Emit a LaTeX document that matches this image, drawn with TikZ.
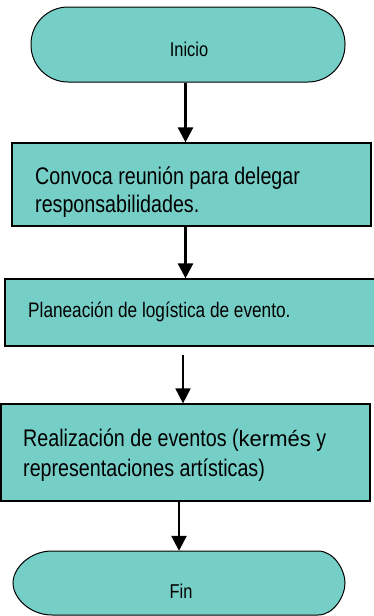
\documentclass[tikz,border=0pt]{standalone}
\usepackage{fontspec}
\setmainfont{Liberation Sans}
\newfontfamily\narrowfont[FakeStretch=0.82]{Liberation Sans}
\usetikzlibrary{arrows.meta}
\definecolor{tealfill}{RGB}{118,207,199}
\begin{document}
\begin{tikzpicture}[x=1pt,y=-1pt,
  termbox/.style={draw=black, line width=1pt, fill=tealfill, rectangle, rounded corners=37pt, inner sep=0pt},
  procbox/.style={draw=black, line width=1.2pt, fill=tealfill, rectangle, inner sep=0pt},
  arr/.style={-{Triangle[width=15pt,length=15pt]}, line width=2.5pt},
  arrthin/.style={-{Triangle[width=15pt,length=15pt]}, line width=1.8pt},
  tbig/.style={inner sep=0pt, anchor=base west, font=\narrowfont\fontsize{24}{28}\selectfont},
  tmid/.style={inner sep=0pt, anchor=base west, font=\narrowfont\fontsize{21}{25}\selectfont},
  tterm/.style={inner sep=0pt, anchor=base, font=\narrowfont\fontsize{20}{24}\selectfont}]
\useasboundingbox (0,0) rectangle (374,616);
\fill[white] (0,0) rectangle (374,616);
% shapes
\node[termbox, minimum width=314pt, minimum height=75pt] (inicio) at (188,44.5) {};
\node[procbox, minimum width=359pt, minimum height=83pt] (b1) at (191.5,184.5) {};
\node[procbox, minimum width=371pt, minimum height=67pt] (b2) at (190.5,312.5) {};
\node[procbox, minimum width=369pt, minimum height=97pt] (b3) at (185.5,452.5) {};
\node[minimum width=332pt, minimum height=64pt, inner sep=0pt] (fin) at (179,583) {};
\draw[fill=tealfill, line width=1pt]
  (52,551) -- (318,551) .. controls (334,551) and (345,570) .. (345,583)
  .. controls (345,596) and (334,615) .. (318,615) -- (52,615)
  .. controls (30,615) and (13,598) .. (13,583)
  .. controls (13,568) and (30,551) .. (52,551) -- cycle;
% texts
\node[tterm] (tinicio) at (189,56) {Inicio};
\node[tbig] (t1a) at (35,184) {Convoca reunión para delegar};
\node[tbig] (t1b) at (35,212) {responsabilidades.};
\node[tmid] (t2) at (28,317) {Planeación de logística de evento.};
\node[tbig] (t3a) at (23,446) {Realización de eventos ({\rmfamily\fontsize{22}{26}\selectfont kermés} y};
\node[tbig] (t3b) at (23,476) {representaciones artísticas)};
\node[tterm] (tfin) at (181,598) {Fin};
% connectors
\coordinate (c1) at (185.5,0);
\coordinate (c4) at (179,0);
\coordinate (a3s) at (183,355);
\draw[arr] (inicio.south -| c1) -- (b1.north -| c1);
\draw[arr] (b1.south -| c1) -- (b2.north -| c1);
\draw[arrthin] (a3s) -- (b3.north -| a3s);
\draw[arr] (b3.south -| c4) -- (fin.north -| c4);
\end{tikzpicture}
\end{document}
